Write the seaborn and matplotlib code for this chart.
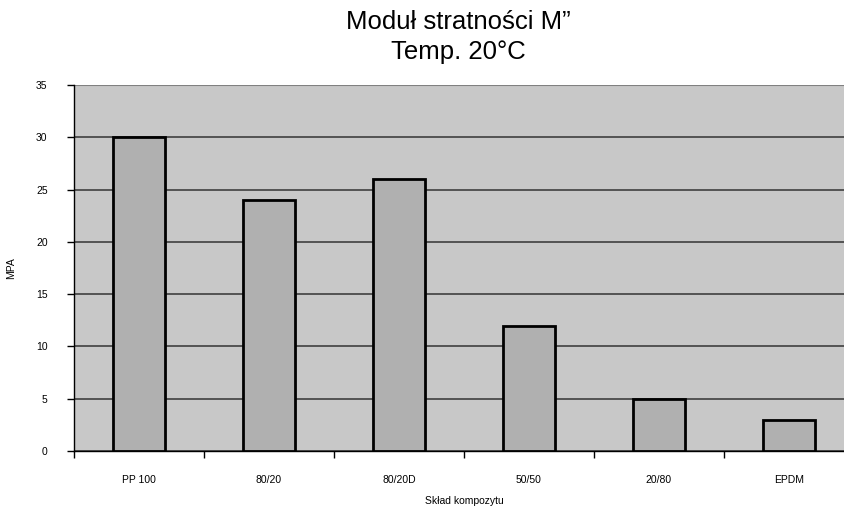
import matplotlib
matplotlib.use("Agg")
import matplotlib.pyplot as plt
import seaborn as sns
import pandas as pd
from matplotlib.ticker import FixedLocator

categories = ["PP 100", "80/20", "80/20D", "50/50", "20/80", "EPDM"]
values = [30, 24, 26, 12, 5, 3]

sns.set_style("white")
plt.rcParams['font.family'] = ['Liberation Sans', 'DejaVu Sans']
plt.rcParams['text.color'] = 'black'
plt.rcParams['axes.labelcolor'] = 'black'
plt.rcParams['xtick.color'] = 'black'
plt.rcParams['ytick.color'] = 'black'

df = pd.DataFrame({"cat": categories, "val": values})

fig = plt.figure(figsize=(8.45, 5.09), dpi=100)
ax = fig.add_axes([74/845, 58/509, 780/845, 366/509])
ax.set_facecolor("#c8c8c8")

sns.barplot(data=df, x="cat", y="val", ax=ax, width=0.4, color="#b0b0b0",
            edgecolor="black", linewidth=2, saturation=1, zorder=3)

ax.set_ylim(0, 35)
ax.set_xlim(-0.5, len(categories) - 0.5)
ax.set_yticks(range(0, 36, 5))
ax.yaxis.grid(True, color="#404040", linewidth=1.2, zorder=1)
ax.set_axisbelow(True)

for s in ["top", "right"]:
    ax.spines[s].set_visible(False)
ax.spines["left"].set_color("black")
ax.spines["bottom"].set_color("black")
ax.spines["left"].set_linewidth(1)
ax.spines["bottom"].set_linewidth(1)
ax.axhline(35, color="#808080", linewidth=1.5, zorder=2)

ax.tick_params(axis="y", direction="out", length=5, width=1, color="black",
               labelsize=7.5, pad=14, left=True)
ax.tick_params(axis="x", which="major", length=0, labelsize=7.5, pad=17)
ax.xaxis.set_minor_locator(FixedLocator([i - 0.5 for i in range(len(categories) + 1)]))
ax.tick_params(axis="x", which="minor", direction="out", length=5, width=1,
               color="black", bottom=True)

ax.set_xlabel("Skład kompozytu", fontsize=7.5, labelpad=8)
ax.set_ylabel("MPA", fontsize=7.5, labelpad=14)

fig.text(458/845, 1 - 22/509, "Moduł stratności M\u201d",
         ha="center", va="center", fontsize=18.5)
fig.text(458/845, 1 - 52/509, "Temp. 20°C", ha="center", va="center", fontsize=18.5)

fig.savefig("out.png", dpi=100)
